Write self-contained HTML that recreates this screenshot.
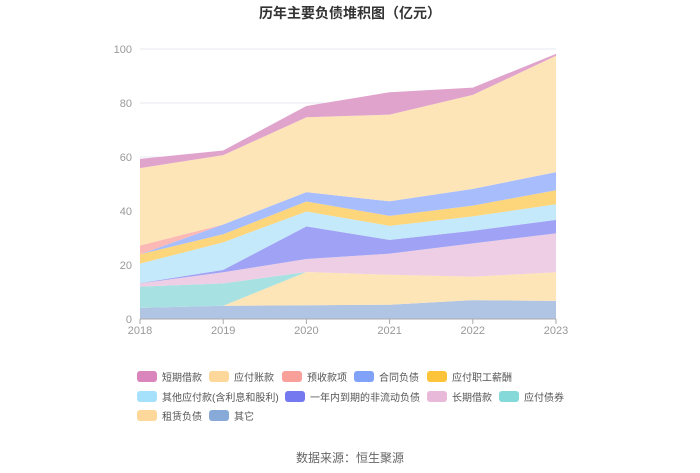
<!DOCTYPE html>
<html><head><meta charset="utf-8"><style>
body{margin:0;background:#fff;}
svg{display:block;font-family:"Liberation Sans","Noto Sans CJK SC",sans-serif;}
</style></head><body>
<svg id="chart" width="700" height="473">
<text x="350" y="18" text-anchor="middle" font-size="14" font-weight="bold" fill="#333">历年主要负债堆积图（亿元）</text>
<g id="grid"></g><g id="areas"></g><g id="axes"></g><g id="legend"></g>
<text x="350" y="462" text-anchor="middle" font-size="12" fill="#666">数据来源：恒生聚源</text>
</svg>
<script>
const categories=["2018","2019","2020","2021","2022","2023"];
const seriesNames=["其它","租赁负债","应付债券","长期借款","一年内到期的非流动负债","其他应付款(含利息和股利)","应付职工薪酬","合同负债","预收款项","应付账款","短期借款"];
const s_other=[4.1,4.9,5.1,5.3,7.0,6.7];
const s_lease=[0,0,12.3,11.1,8.7,10.6];
const s_bond=[7.9,8.3,0,0,0,0];
const s_longloan=[1.2,4.1,4.8,7.8,12.3,14.4];
const s_current=[0.1,0.9,12.1,5.1,4.7,5.0];
const s_otherpay=[7.2,10.2,5.5,5.2,5.3,5.8];
const s_salary=[3.5,3.0,3.7,3.7,4.0,5.2];
const s_contract=[0,3.6,3.5,5.4,6.2,6.7];
const s_advance=[3.2,0,0,0,0,0];
const s_payable=[28.7,25.7,27.7,32.1,34.8,43.1];
const s_short=[3.4,1.7,4.2,8.3,2.7,0.7];
const yTicks=[0,20,40,60,80,100];
const series=[s_other,s_lease,s_bond,s_longloan,s_current,s_otherpay,s_salary,s_contract,s_advance,s_payable,s_short];
const fills=["#b0c4e4","#fde5b8","#a8e1e2","#eecee4","#a0a3f5","#c4e9fb","#fdd57a","#a8bdfb","#fbb8b5","#fde5b8","#e0a3cc"];
const legendColors=["#88aad9","#fdd89a","#85d9d9","#e9b9d9","#7579ef","#a5e1fb","#fdc43b","#80a3f9","#f9a09a","#fdd89a","#db85bd"];
const slugs=["other","lease","bond","long-loan","current-noncurrent","other-payable","salary","contract","advance","payable","short-loan"];
const NS="http://www.w3.org/2000/svg";
const X0=140,X1=556,Y0=319,YTOP=49;
const xs=i=>X0+(X1-X0)*i/(categories.length-1);
const ys=v=>Y0-(Y0-YTOP)*v/100;
function mk(t,a,p){const e=document.createElementNS(NS,t);for(const k in a)e.setAttribute(k,a[k]);p.appendChild(e);return e;}
const grid=document.getElementById('grid'),axes=document.getElementById('axes'),areas=document.getElementById('areas'),legend=document.getElementById('legend');
yTicks.forEach(t=>{
 const l=mk('line',{x1:X0,x2:X1,y1:ys(t),y2:ys(t),stroke:'#e6e9f0'},grid);
 
 
 const tx=mk('text',{x:X0-8,y:ys(t)+4,'text-anchor':'end','font-size':11,fill:'#999'},axes);tx.textContent=t;
 
 
});
const ax=mk('line',{x1:X0,x2:X1,y1:Y0,y2:Y0,stroke:'#aaa'},axes);


categories.forEach((c,i)=>{
 const tk=mk('line',{x1:xs(i),x2:xs(i),y1:Y0,y2:Y0+5,stroke:'#aaa'},axes);
 
 
 const tx=mk('text',{x:xs(i),y:Y0+15,'text-anchor':'middle','font-size':11,fill:'#999'},axes);tx.textContent=c;
 
 
});
let base=categories.map(()=>0);
series.forEach((s,k)=>{
 const top=base.map((b,i)=>b+s[i]);
 let d='M'+top.map((v,i)=>xs(i)+','+ys(v)).join('L');
 for(let i=categories.length-1;i>=0;i--)d+='L'+xs(i)+','+ys(base[i]);
 const p=mk('path',{d:d+'Z',fill:fills[k],stroke:'none'},areas);
 
 
 base=top;
});
const order=[10,9,8,7,6,5,4,3,2,1,0];
const pos=[[137,377],[209,377],[282,377],[354,377],[427,377],[137,397],[285,397],[427,397],[499,397],[137,416],[209,416]];
order.forEach((k,j)=>{
 const [x,y]=pos[j];
 const g=mk('g',{},legend);
 
 
 mk('rect',{x:x,y:y-6,width:20,height:11,rx:3,fill:legendColors[k]},g);
 const t=mk('text',{x:x+25,y:y+4,'font-size':10,fill:'#555'},g);t.textContent=seriesNames[k];
});
</script>
</body></html>
